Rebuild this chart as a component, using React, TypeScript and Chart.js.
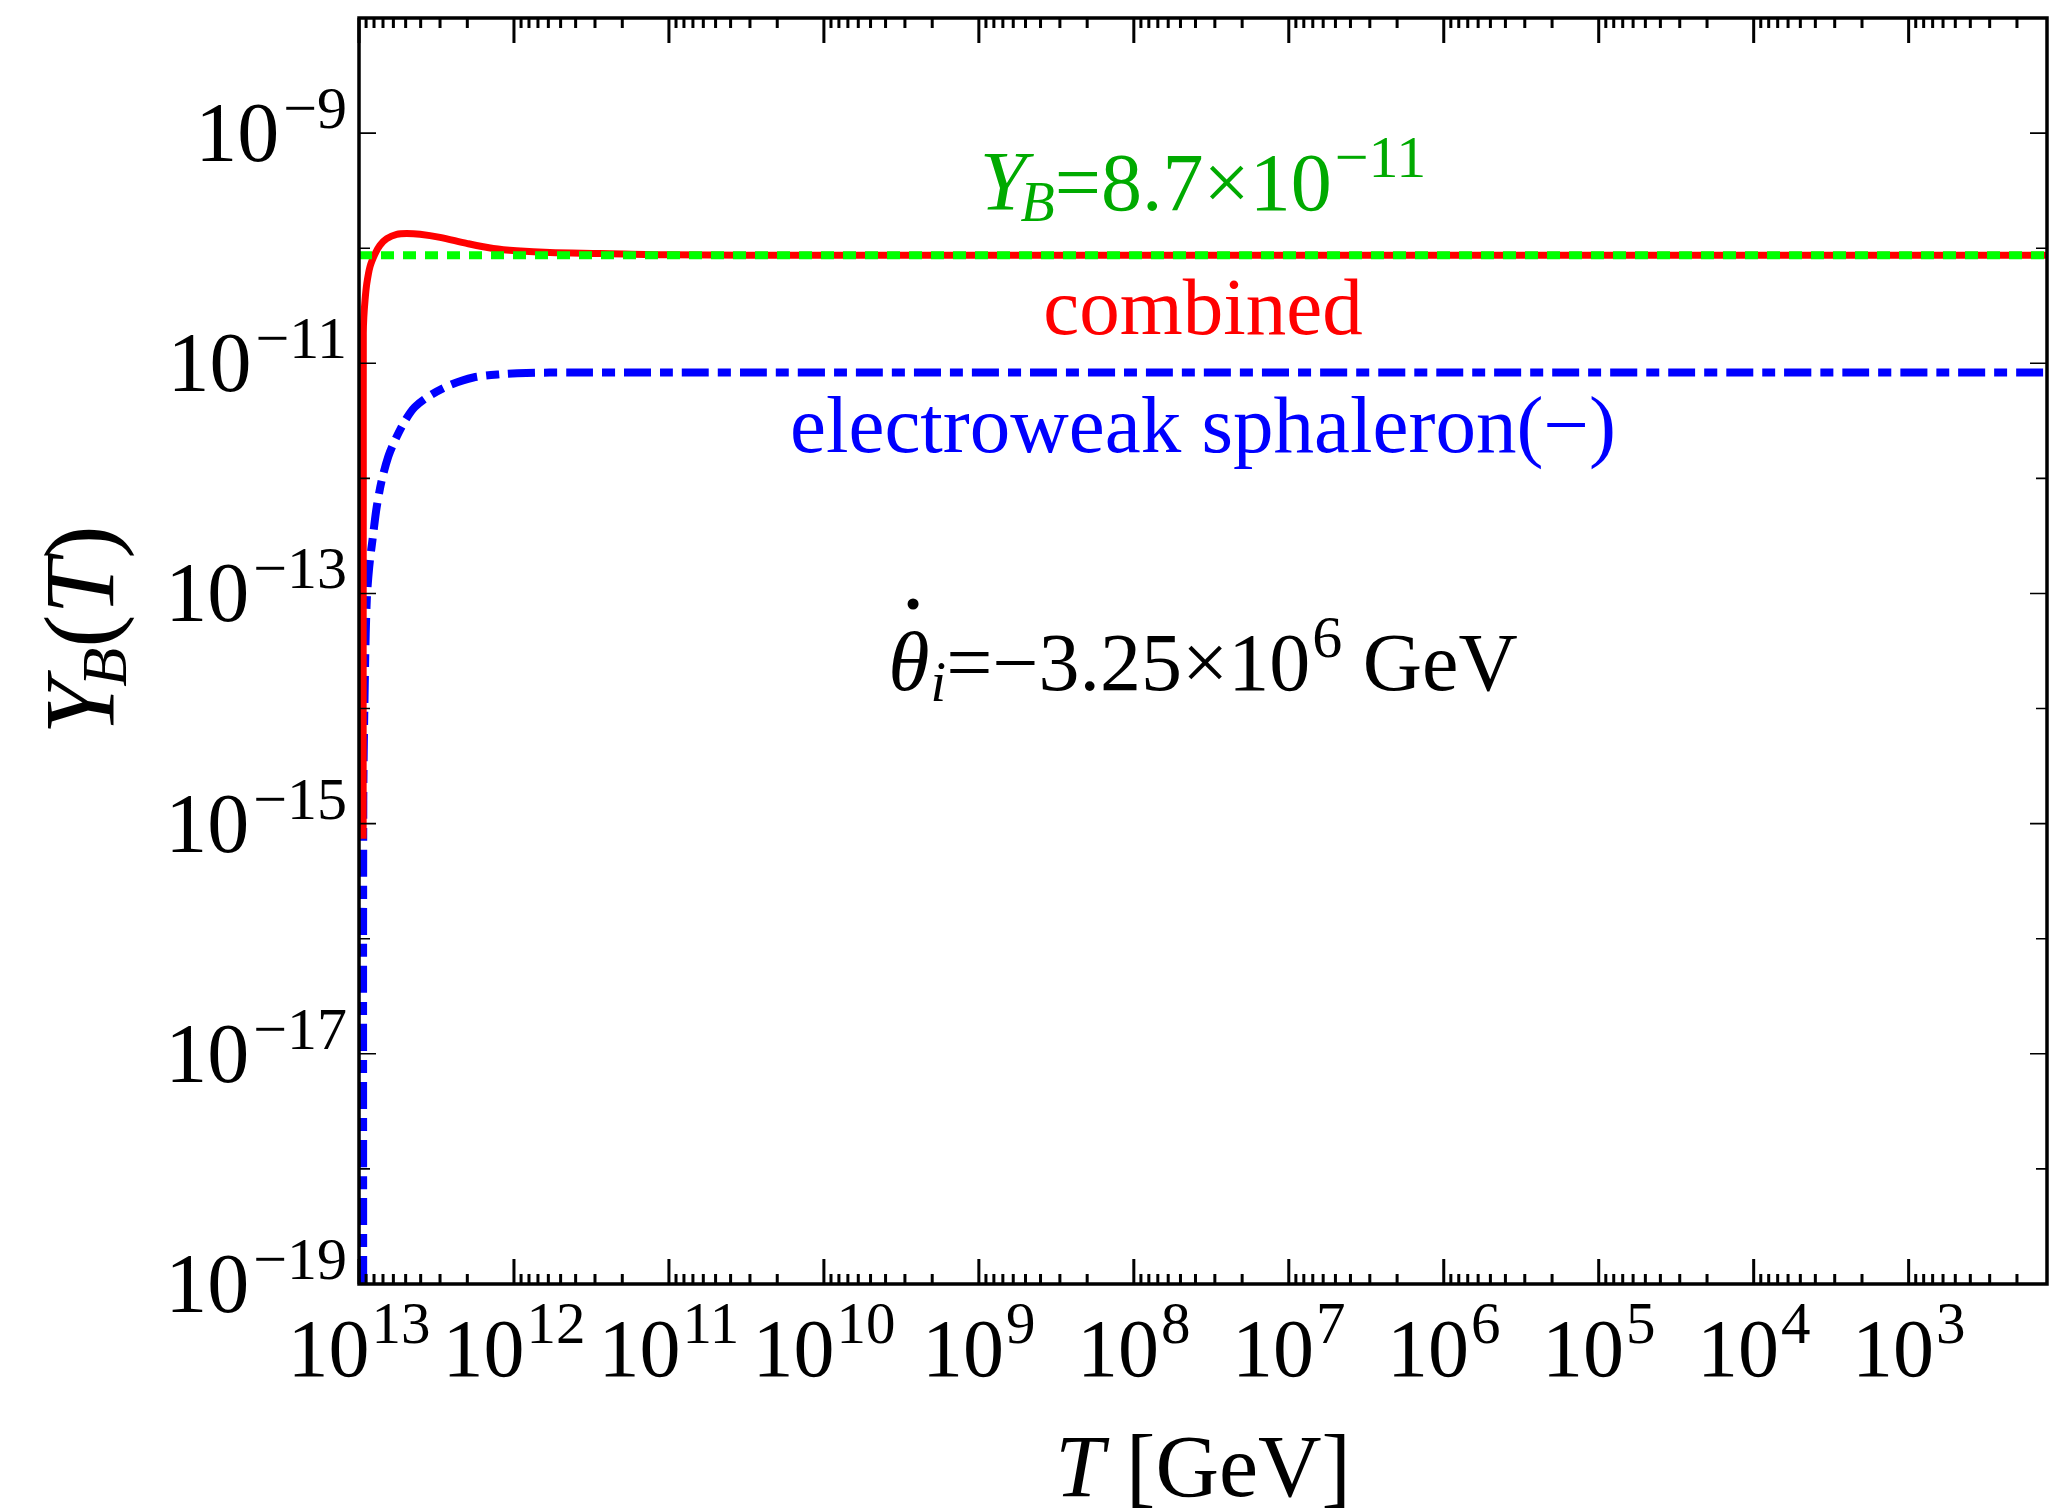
import React, { useEffect, useRef } from 'react';
import { Chart, registerables } from 'chart.js';

Chart.register(...registerables);

// ---------- data (T in GeV, Y_B dimensionless) ----------
const T_COMBINED = [
  9.40e12, 9.40e12, 9.38e12, 9.38e12, 9.31e12, 9.14e12, 8.91e12, 8.49e12, 7.89e12,
  7.33e12, 6.62e12, 5.71e12, 4.92e12, 4.04e12, 3.00e12, 2.02e12, 1.36e12, 9.62e11,
  5.86e11, 2.79e11, 1.0e11, 1.0e10, 130,
];
const Y_COMBINED = [
  7.4e-16, 3.2e-14, 1.0e-12, 1.82e-11, 2.51e-11, 3.55e-11, 4.9e-11, 6.92e-11, 8.91e-11,
  1.06e-10, 1.21e-10, 1.32e-10, 1.34e-10, 1.32e-10, 1.24e-10, 1.10e-10, 9.93e-11, 9.48e-11,
  9.16e-11, 9.0e-11, 8.75e-11, 8.7e-11, 8.7e-11,
];

const T_SPHALERON = [
  9.40e12, 9.38e12, 9.14e12, 8.91e12, 8.59e12, 8.09e12, 7.69e12, 7.14e12, 6.47e12,
  5.86e12, 5.05e12, 4.36e12, 3.48e12, 2.59e12, 1.83e12, 1.23e12, 8.32e11, 4.17e11, 130,
];
const Y_SPHALERON = [
  3.2e-20, 1.58e-15, 2.29e-14, 8.7e-14, 1.70e-13, 3.31e-13, 5.62e-13, 9.55e-13, 1.55e-12,
  2.14e-12, 3.16e-12, 4.17e-12, 5.25e-12, 6.46e-12, 7.52e-12, 8.02e-12, 8.25e-12, 8.3e-12, 8.3e-12,
];

const T_OBSERVED = [1.0e13, 130];
const Y_OBSERVED = [8.7e-11, 8.7e-11];

const X_MIN = 128;
const X_MAX = 1.0e13;
const Y_MIN = 1e-19;
const Y_MAX = 1e-8;

const X_TICK_EXPONENTS = [13, 12, 11, 10, 9, 8, 7, 6, 5, 4, 3];
const Y_TICK_EXPONENTS = [-9, -11, -13, -15, -17, -19];
const Y_MINOR_EXPONENTS = [-10, -12, -14, -16, -18];

const SERIF = '"Liberation Serif", "Times New Roman", serif';

type Run = { t: string; size: number; italic?: boolean; dy?: number; dx?: number };

function setFont(ctx: CanvasRenderingContext2D, r: Run) {
  ctx.font = `${r.italic ? 'italic ' : ''}${r.size}px ${SERIF}`;
}

function runsWidth(ctx: CanvasRenderingContext2D, runs: Run[]) {
  let w = 0;
  for (const r of runs) {
    setFont(ctx, r);
    w += ctx.measureText(r.t).width + (r.dx || 0);
  }
  return w;
}

function drawRuns(
  ctx: CanvasRenderingContext2D,
  runs: Run[],
  x: number,
  y: number,
  align: 'left' | 'center' | 'right'
) {
  const w = runsWidth(ctx, runs);
  let cx = align === 'left' ? x : align === 'center' ? x - w / 2 : x - w;
  const positions: number[] = [];
  ctx.textAlign = 'left';
  ctx.textBaseline = 'alphabetic';
  for (const r of runs) {
    setFont(ctx, r);
    cx += r.dx || 0;
    positions.push(cx);
    ctx.fillText(r.t, cx, y + (r.dy || 0));
    cx += ctx.measureText(r.t).width;
  }
  return positions;
}

const decorPlugin = {
  id: 'decor',
  afterDraw(chart: any) {
    const ctx: CanvasRenderingContext2D = chart.ctx;
    const { left, right, top, bottom } = chart.chartArea;
    const xs = chart.scales.x;
    const ys = chart.scales.y;
    ctx.save();

    // frame
    ctx.strokeStyle = '#000';
    ctx.lineWidth = 3.5;
    ctx.beginPath();
    ctx.rect(left, top, right - left, bottom - top);
    ctx.stroke();

    // x ticks (inward, top & bottom)
    ctx.lineWidth = 3;
    ctx.beginPath();
    for (let e = 2; e <= 13; e++) {
      for (let m = 1; m <= 9; m++) {
        const v = m * Math.pow(10, e);
        if (v < X_MIN || v > X_MAX) continue;
        const px = xs.getPixelForValue(v);
        const len = m === 1 ? 25 : 10;
        ctx.moveTo(px, bottom);
        ctx.lineTo(px, bottom - len);
        ctx.moveTo(px, top);
        ctx.lineTo(px, top + len);
      }
    }
    ctx.stroke();

    // y ticks (inward, left & right)
    ctx.lineWidth = 1.6;
    ctx.beginPath();
    const yt = [...Y_TICK_EXPONENTS.map((e) => [e, 17]), ...Y_MINOR_EXPONENTS.map((e) => [e, 11])];
    for (const [e, len] of yt) {
      const py = ys.getPixelForValue(Math.pow(10, e));
      ctx.moveTo(left, py);
      ctx.lineTo(left + len, py);
      ctx.moveTo(right, py);
      ctx.lineTo(right - len, py);
    }
    ctx.stroke();

    ctx.fillStyle = '#000';
    // y tick labels
    for (const e of Y_TICK_EXPONENTS) {
      const py = ys.getPixelForValue(Math.pow(10, e));
      drawRuns(
        ctx,
        [
          { t: '10', size: 84 },
          { t: '\u2212' + String(-e), size: 60, dy: -33, dx: 4 },
        ],
        left - 12,
        py + 28,
        'right'
      );
    }
    // x tick labels
    for (const e of X_TICK_EXPONENTS) {
      const px = xs.getPixelForValue(Math.pow(10, e));
      drawRuns(
        ctx,
        [
          { t: '10', size: 82 },
          { t: String(e), size: 59, dy: -33, dx: 2 },
        ],
        px,
        1376,
        'center'
      );
    }

    const cx = (left + right) / 2;

    // axis titles
    drawRuns(
      ctx,
      [
        { t: 'T', size: 88, italic: true },
        { t: ' [GeV]', size: 88 },
      ],
      cx,
      1496,
      'center'
    );
    ctx.save();
    ctx.translate(113, 630);
    ctx.rotate(-Math.PI / 2);
    drawRuns(
      ctx,
      [
        { t: 'Y', size: 100, italic: true },
        { t: 'B', size: 64, italic: true, dy: 13, dx: -8 },
        { t: '(', size: 100 },
        { t: 'T', size: 100, italic: true },
        { t: ')', size: 100 },
      ],
      0,
      0,
      'center'
    );
    ctx.restore();

    // annotations
    ctx.fillStyle = '#00aa00';
    drawRuns(
      ctx,
      [
        { t: 'Y', size: 84, italic: true },
        { t: 'B', size: 56, italic: true, dy: 11, dx: -6 },
        { t: '=8.7\u00d710', size: 82 },
        { t: '\u221211', size: 60, dy: -33, dx: 3 },
      ],
      cx,
      210,
      'center'
    );

    ctx.fillStyle = '#ff0000';
    drawRuns(ctx, [{ t: 'combined', size: 81 }], cx, 334, 'center');

    ctx.fillStyle = '#0000ff';
    drawRuns(ctx, [{ t: 'electroweak sphaleron(\u2212)', size: 81 }], cx, 452, 'center');

    ctx.fillStyle = '#000';
    const thetaRuns: Run[] = [
      { t: '\u03b8', size: 84, italic: true },
      { t: 'i', size: 56, italic: true, dy: 11, dx: 1 },
      { t: '=\u22123.25\u00d710', size: 82 },
      { t: '6', size: 60, dy: -33, dx: 2 },
      { t: ' GeV', size: 82 },
    ];
    const pos = drawRuns(ctx, thetaRuns, cx, 690, 'center');
    setFont(ctx, thetaRuns[0]);
    const tw = ctx.measureText('\u03b8').width;
    ctx.beginPath();
    ctx.arc(pos[0] + tw * 0.6, 690 - 86, 5.5, 0, Math.PI * 2);
    ctx.fill();

    ctx.restore();
  },
};

function pts(xs: number[], ys: number[]) {
  return xs.map((x, i) => ({ x, y: ys[i] }));
}

export default function App() {
  const ref = useRef<HTMLCanvasElement | null>(null);

  useEffect(() => {
    document.body.style.margin = '0';
    document.body.style.overflow = 'hidden';
    const canvas = ref.current;
    if (!canvas) return;
    const chart = new Chart(canvas, {
      type: 'line',
      data: {
        datasets: [
          {
            label: 'observed',
            data: pts(T_OBSERVED, Y_OBSERVED),
            borderColor: '#00ff00',
            borderWidth: 8,
            borderDash: [13, 9],
            borderCapStyle: 'butt',
            pointRadius: 0,
            tension: 0,
            order: 0,
            clip: 0,
          },
          {
            label: 'combined',
            data: pts(T_COMBINED, Y_COMBINED),
            borderColor: '#ff0000',
            borderWidth: 7,
            borderJoinStyle: 'round',
            pointRadius: 0,
            tension: 0.3,
            order: 1,
            clip: 0,
          },
          {
            label: 'electroweak sphaleron(-)',
            data: pts(T_SPHALERON, Y_SPHALERON),
            borderColor: '#0000ff',
            borderWidth: 8,
            borderDash: [27, 9, 13, 9],
            borderCapStyle: 'butt',
            pointRadius: 0,
            tension: 0.3,
            order: 2,
            clip: 0,
          },
        ],
      } as any,
      options: {
        animation: false,
        responsive: false,
        devicePixelRatio: 1,
        parsing: false as any,
        layout: { padding: { left: 359, right: 7, top: 18, bottom: 226 } },
        plugins: { legend: { display: false }, tooltip: { enabled: false } },
        events: [],
        scales: {
          x: { type: 'logarithmic', reverse: true, min: X_MIN, max: X_MAX, display: false },
          y: { type: 'logarithmic', min: Y_MIN, max: Y_MAX, display: false },
        },
      } as any,
      plugins: [decorPlugin],
    });
    return () => chart.destroy();
  }, []);

  return (
    <div style={{ width: 2054, height: 1510, background: '#fff' }}>
      <canvas ref={ref} width={2054} height={1510} style={{ display: 'block' }} />
    </div>
  );
}
